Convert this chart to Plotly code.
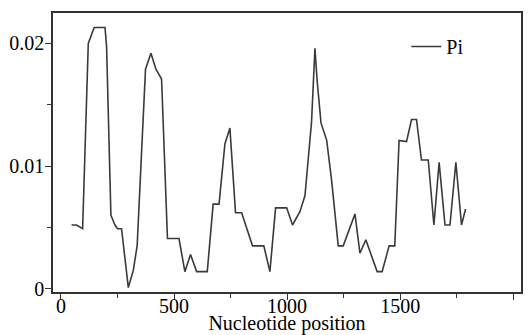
import plotly.graph_objects as go

positions = [47, 69, 96, 121, 147, 195, 202, 221, 239, 250, 268, 298, 320, 337, 374, 398, 420, 445,
             471, 522, 548, 573, 600, 647, 673, 699, 725, 747, 772, 799, 847, 897, 924, 949, 998,
             1024, 1057, 1079, 1108, 1123, 1133, 1150, 1175, 1197, 1226, 1248, 1300, 1322, 1348,
             1398, 1420, 1451, 1476, 1495, 1528, 1550, 1572, 1594, 1624, 1649, 1672, 1698, 1720,
             1746, 1771, 1789]
pi_values = [0.0052, 0.0052, 0.0049, 0.0200, 0.0213, 0.0213, 0.0197, 0.0060, 0.0052, 0.0049, 0.0049,
             0.0001, 0.0015, 0.0035, 0.0179, 0.0192, 0.0179, 0.0171,
             0.0041, 0.0041, 0.0014, 0.0028, 0.0014, 0.0014, 0.0069, 0.0069, 0.0118, 0.0131, 0.0062,
             0.0062, 0.0035, 0.0035, 0.0014, 0.0066, 0.0066,
             0.0052, 0.0063, 0.0076, 0.0136, 0.0196, 0.0169, 0.0135, 0.0121, 0.0088, 0.0035, 0.0035,
             0.0061, 0.0029, 0.0040,
             0.0014, 0.0014, 0.0035, 0.0035, 0.0121, 0.0120, 0.0138, 0.0138, 0.0105, 0.0105, 0.0052,
             0.0103, 0.0052, 0.0052,
             0.0103, 0.0052, 0.0065]

x_tickvals = [0, 500, 1000, 1500, 2000]
y_tickvals = [0, 0.01, 0.02]
y_ticktext = ["0", "0.01", "0.02"]

font_family = "Liberation Serif"

fig = go.Figure()
fig.add_trace(go.Scatter(x=positions, y=pi_values, mode="lines", name="Pi",
                         line=dict(color="#3a3a3a", width=1.6)))

fig.update_layout(
    width=529, height=335,
    margin=dict(l=53, r=8, t=13, b=43),
    paper_bgcolor="white", plot_bgcolor="white",
    font=dict(family=font_family, size=20, color="black"),
    showlegend=True,
    legend=dict(x=0.755, y=0.95, xanchor="left", yanchor="top",
                bgcolor="rgba(0,0,0,0)", font=dict(size=20, family=font_family)),
)
fig.update_xaxes(
    range=[-35, 2034], tickvals=x_tickvals, ticks="outside", ticklen=6, tickwidth=1.2,
    tickcolor="#333", showgrid=False, zeroline=False, automargin=False,
    showline=True, linecolor="#333", linewidth=1.6, mirror=True,
    ticklabelstandoff=-11,
    minor=dict(tickvals=[250, 750, 1250, 1750], ticks="outside", ticklen=4, tickcolor="#333"),
    title=dict(text="Nucleotide position", standoff=0, font=dict(size=20, family=font_family)),
    tickfont=dict(size=20, family=font_family),
)
fig.update_yaxes(
    range=[-0.00026, 0.02248], tickvals=y_tickvals, ticktext=y_ticktext, ticks="outside",
    ticklen=6, tickwidth=1.2, tickcolor="#333", showgrid=False, zeroline=False, automargin=False,
    showline=True, linecolor="#333", linewidth=1.6, mirror=True,
    ticklabelstandoff=-3,
    minor=dict(tickvals=[0.005, 0.015], ticks="outside", ticklen=4, tickcolor="#333"),
    tickfont=dict(size=20, family=font_family),
)

fig.write_html("out.html", config={"displayModeBar": False},
               post_script="document.body.style.margin='0';")
